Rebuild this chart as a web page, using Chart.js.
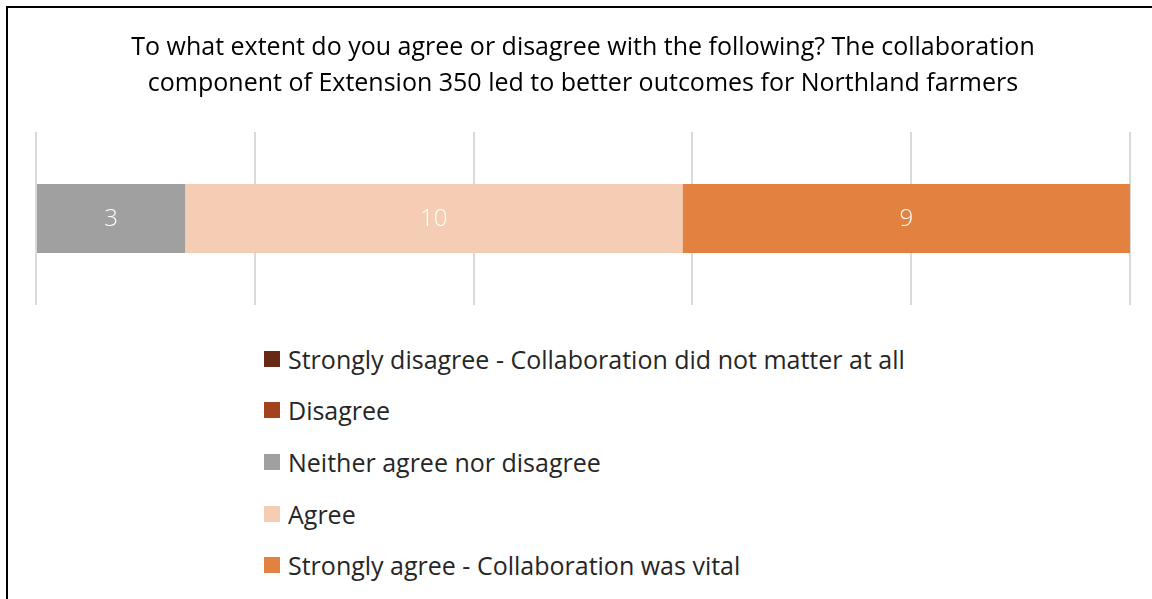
<!DOCTYPE html>
<html>
<head>
<meta charset="utf-8">
<script src="https://cdn.jsdelivr.net/npm/chart.js@4/dist/chart.umd.min.js"></script>
<style>
  html, body { margin: 0; padding: 0; background: #fff; }
  #page { position: relative; width: 1152px; height: 599px; overflow: hidden; }
  #frame {
    position: absolute; left: 6px; top: 6px; width: 1300px; height: 800px;
    border-left: 2px solid #000; border-top: 2px solid #000;
  }
  #chartBox { position: absolute; left: 0; top: 0; width: 1152px; height: 330px; }
  #legend {
    position: absolute; left: 264px; top: 333px; margin: 0; padding: 0;
    list-style: none; font-family: "Open Sans", Lato, sans-serif; font-size: 25px; color: #262626;
  }
  #legend li { height: 51.6px; display: flex; align-items: center; white-space: nowrap; }
  #legend .box { width: 16px; height: 16px; margin-right: 8px; flex: none; }
</style>
</head>
<body>
<div id="page">
  <div id="frame"></div>
  <div id="chartBox"><canvas id="likertChart"></canvas></div>
  <ul id="legend"></ul>
</div>
<script>
  // survey responses (count of farmers per answer)
  var categories = ['Collaboration'];
  var seriesNames = [
    'Strongly disagree - Collaboration did not matter at all',
    'Disagree',
    'Neither agree nor disagree',
    'Agree',
    'Strongly agree - Collaboration was vital'
  ];
  var stronglyDisagree = [0];
  var disagree = [0];
  var neither = [3];
  var agree = [10];
  var stronglyAgree = [9];
  var seriesColors = ['#672815', '#a2421e', '#a0a0a0', '#f5cdb4', '#e38240'];

  var seriesValues = [stronglyDisagree, disagree, neither, agree, stronglyAgree];
  var total = seriesValues.reduce(function (s, arr) { return s + arr[0]; }, 0);

  // white count written in the middle of each non-empty segment
  var valueLabels = {
    id: 'valueLabels',
    afterDatasetsDraw: function (chart) {
      var ctx = chart.ctx;
      ctx.save();
      ctx.font = '300 24px "Open Sans", Lato, sans-serif';
      ctx.fillStyle = '#ffffff';
      ctx.textAlign = 'center';
      ctx.textBaseline = 'middle';
      chart.data.datasets.forEach(function (ds, i) {
        chart.getDatasetMeta(i).data.forEach(function (bar, j) {
          var v = ds.data[j];
          if (!v) return;
          var p = bar.getCenterPoint();
          ctx.fillText(String(v), p.x, p.y + 1);
        });
      });
      ctx.restore();
    }
  };

  var chart = new Chart(document.getElementById('likertChart'), {
    type: 'bar',
    data: {
      labels: categories,
      datasets: seriesNames.map(function (name, i) {
        return {
          label: name,
          data: seriesValues[i],
          backgroundColor: seriesColors[i],
          borderWidth: 0,
          barPercentage: 0.4,
          categoryPercentage: 1
        };
      })
    },
    options: {
      indexAxis: 'y',
      responsive: true,
      maintainAspectRatio: false,
      animation: false,
      layout: { padding: { top: 10, left: 36, right: 22, bottom: 25 } },
      scales: {
        x: {
          stacked: true,
          min: 0,
          max: total,
          ticks: { display: false, count: 6 },
          grid: { color: '#d9d9d9', lineWidth: 2, drawTicks: false },
          border: { display: false }
        },
        y: {
          stacked: true,
          display: false
        }
      },
      plugins: {
        legend: { display: false },
        tooltip: { enabled: false },
        title: {
          display: true,
          text: [
            'To what extent do you agree or disagree with the following? The collaboration',
            'component of Extension 350 led to better outcomes for Northland farmers'
          ],
          color: '#000000',
          font: { family: '"Open Sans", Lato, sans-serif', size: 25, weight: 'normal', lineHeight: 1.44 },
          padding: { top: 20, bottom: 30 }
        }
      }
    },
    plugins: [valueLabels]
  });

  // legend listed one entry per row under the bar
  var legendEl = document.getElementById('legend');
  chart.options.plugins.legend.labels.generateLabels(chart).forEach(function (item) {
    var li = document.createElement('li');
    var box = document.createElement('span');
    box.className = 'box';
    box.style.background = item.fillStyle;
    li.appendChild(box);
    li.appendChild(document.createTextNode(item.text));
    legendEl.appendChild(li);
  });
</script>
</body>
</html>
